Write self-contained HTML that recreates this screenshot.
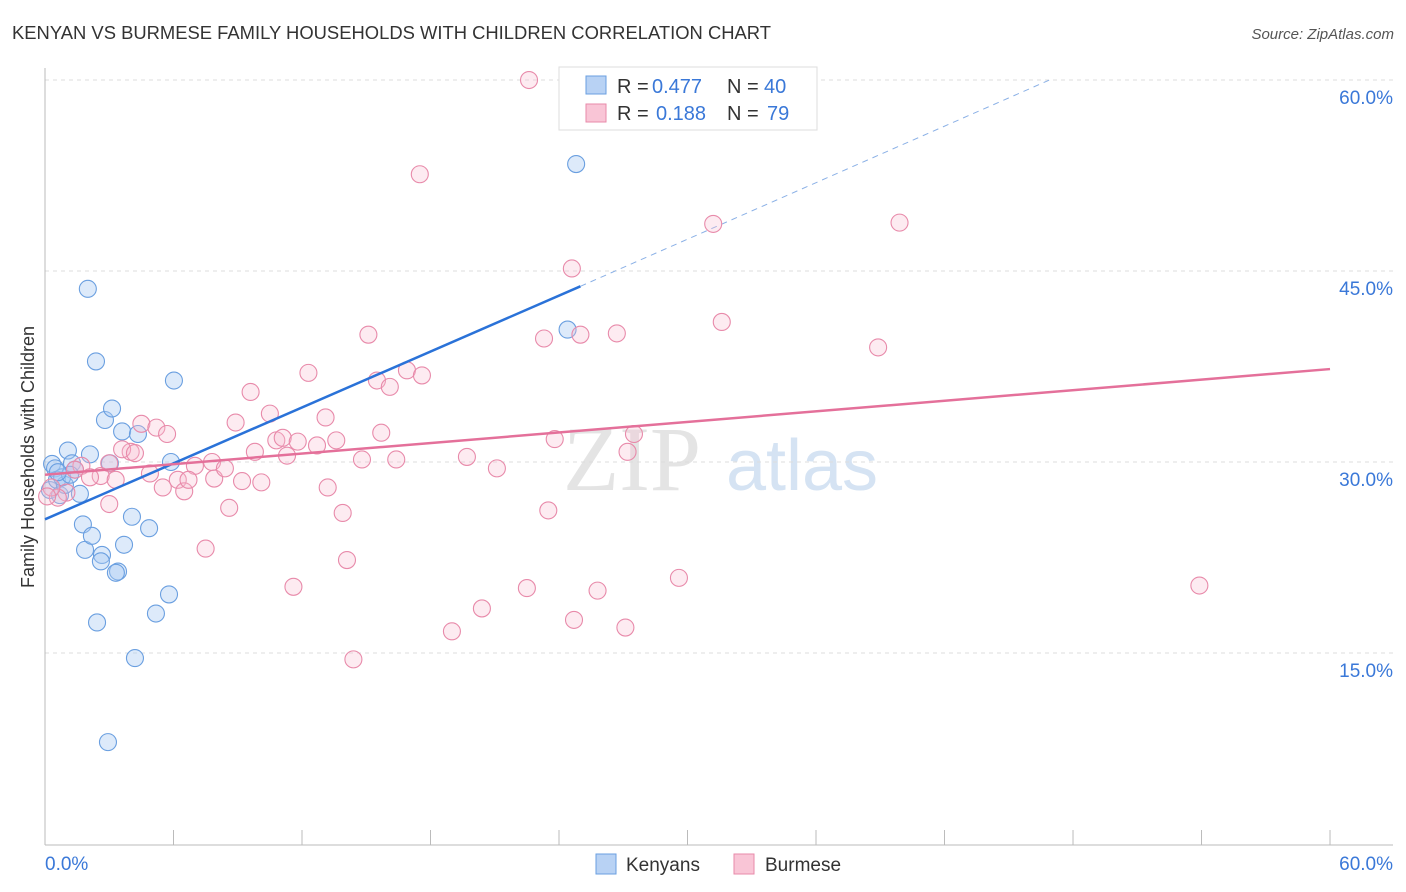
<!DOCTYPE html>
<html><head><meta charset="utf-8">
<style>
body{margin:0;background:#fff;font-family:"Liberation Sans",sans-serif;}
svg{display:block}
</style></head>
<body>
<svg id="chart" width="1406" height="892" xmlns="http://www.w3.org/2000/svg">
<text x="12" y="39" font-size="18" fill="#333" textLength="759" lengthAdjust="spacingAndGlyphs">KENYAN VS BURMESE FAMILY HOUSEHOLDS WITH CHILDREN CORRELATION CHART</text>
<text x="1394" y="39" font-size="15" fill="#555" font-style="italic" text-anchor="end">Source: ZipAtlas.com</text>
<g>
<text x="632" y="490" font-size="92" font-family="Liberation Serif,serif" fill="#e4e4e4" text-anchor="middle">ZIP</text>
<text x="802" y="490" font-size="72" fill="#d5e3f3" text-anchor="middle">atlas</text>
</g>
<g id="grid"></g>
<g id="axes"></g>
<g id="lines"></g>
<g id="points"></g>
<text transform="translate(34,457) rotate(-90)" font-size="18" fill="#333" text-anchor="middle">Family Households with Children</text>
<g>
<rect x="559" y="67" width="258" height="63" fill="#fff" stroke="#ddd"/>
<rect x="586" y="76" width="20" height="18" fill="#b8d2f4" stroke="#6a9fe0"/>
<rect x="586" y="104" width="20" height="18" fill="#f9c5d6" stroke="#e88aaa"/>
<text x="617" y="93" font-size="20" fill="#333">R =</text>
<text x="652" y="93" font-size="20" fill="#3a78d8">0.477</text>
<text x="727" y="93" font-size="20" fill="#333">N =</text>
<text x="764" y="93" font-size="20" fill="#3a78d8">40</text>
<text x="617" y="120" font-size="20" fill="#333">R =</text>
<text x="656" y="120" font-size="20" fill="#3a78d8">0.188</text>
<text x="727" y="120" font-size="20" fill="#333">N =</text>
<text x="767" y="120" font-size="20" fill="#3a78d8">79</text>
</g>
<g>
<rect x="596" y="854" width="20" height="20" fill="#b8d2f4" stroke="#6a9fe0"/>
<text x="626" y="871" font-size="19" fill="#333">Kenyans</text>
<rect x="734" y="854" width="20" height="20" fill="#f9c5d6" stroke="#e88aaa"/>
<text x="765" y="871" font-size="19" fill="#333">Burmese</text>
</g>
</svg>
<script>
const yTicks=[15,30,45,60];
const yTickLabels=["15.0%","30.0%","45.0%","60.0%"];
const xTickVals=[0,6,12,18,24,30,36,42,48,54,60];
const xEndLabels=["0.0%","60.0%"];
const kenX=[0.33,0.47,0.23,0.56,0.7,1.07,1.26,1.4,0.93,1.63,2.0,2.38,2.1,2.8,3.13,3.03,3.6,4.34,6.02,5.88,1.77,1.87,2.19,2.66,2.61,3.69,3.41,3.31,4.06,4.86,2.43,5.18,5.79,4.2,2.94,24.8,24.4,0.8,1.17,0.6];
const kenY=[29.85,29.5,27.8,28.6,27.4,30.9,29.9,29.4,28.2,27.5,43.6,37.9,30.6,33.3,34.2,29.9,32.4,32.2,36.4,30.0,25.1,23.1,24.2,22.7,22.2,23.5,21.4,21.3,25.7,24.8,17.4,18.1,19.6,14.6,8.0,53.4,40.4,28.8,29.0,29.2];
const burX=[22.6,17.5,31.2,39.9,24.6,15.1,23.3,25.0,26.7,31.6,38.9,12.3,9.6,15.5,16.1,16.9,17.6,10.5,8.9,13.1,4.5,5.2,5.7,4.0,3.6,4.2,10.8,11.1,11.8,12.7,13.6,15.7,23.8,27.5,9.8,11.3,14.8,16.4,19.7,21.1,27.2,3.0,2.6,3.3,4.9,6.2,6.5,7.0,7.8,7.9,8.4,9.2,10.1,6.7,5.5,1.7,2.1,1.4,1.0,0.6,0.3,0.1,3.0,13.2,8.6,13.9,23.5,7.5,14.1,11.6,22.5,25.8,29.6,20.4,24.7,27.1,19.0,14.4,53.9];
const burY=[60.0,52.6,48.7,48.8,45.2,40.0,39.7,40.0,40.1,41.0,39.0,37.0,35.5,36.4,35.9,37.2,36.8,33.8,33.1,33.5,33.0,32.7,32.2,30.8,31.0,30.7,31.7,31.9,31.6,31.3,31.7,32.3,31.8,32.2,30.8,30.5,30.2,30.2,30.4,29.5,30.8,29.9,28.9,28.6,29.1,28.6,27.7,29.7,30.0,28.7,29.5,28.5,28.4,28.6,28.0,29.7,28.8,29.4,27.6,27.2,28.0,27.3,26.7,28.0,26.4,26.0,26.2,23.2,22.3,20.2,20.1,19.9,20.9,18.5,17.6,17.0,16.7,14.5,20.3];
const kenTrend=[[0,25.5],[25,43.8]];
const kenTrendExt=[[25,43.8],[46.9,60]];
const burTrend=[[0,29.0],[60,37.3]];

const NS="http://www.w3.org/2000/svg";
const xs=v=>45+v*21.417;
const ys=v=>844-v*12.733;
function mk(tag,attrs,parent){const e=document.createElementNS(NS,tag);for(const k in attrs)e.setAttribute(k,attrs[k]);document.getElementById(parent).appendChild(e);return e;}

yTicks.forEach((t,i)=>{
  const g=mk('line',{x1:45,x2:1393,y1:ys(t),y2:ys(t),stroke:'#ddd','stroke-dasharray':'4,4'},'grid');
  
  
  const l=mk('text',{x:1393,y:ys(t)+24,'font-size':19,fill:'#3a78d8','text-anchor':'end'},'grid');
  l.textContent=yTickLabels[i];
  
  
});
const ax=mk('line',{x1:45,x2:1393,y1:845,y2:845,stroke:'#bbb'},'axes');


const ay=mk('line',{x1:45,x2:45,y1:68,y2:845,stroke:'#bbb'},'axes');


xTickVals.forEach(t=>{
  const k=mk('line',{x1:xs(t),x2:xs(t),y1:830,y2:845,stroke:'#bbb'},'axes');
  
  
});
[[0,'start'],[60,'end']].forEach((p,i)=>{
  const l=mk('text',{x:i?1393:45,y:870,'font-size':19,fill:'#3a78d8','text-anchor':p[1]},'axes');
  l.textContent=xEndLabels[i];
  
  
});
const l1=mk('line',{x1:xs(kenTrendExt[0][0]),y1:ys(kenTrendExt[0][1]),x2:xs(kenTrendExt[1][0]),y2:ys(kenTrendExt[1][1]),stroke:'#8ab0e6','stroke-width':1,'stroke-dasharray':'6,5'},'lines');



kenX.forEach((x,i)=>{
  const c=mk('circle',{cx:xs(x),cy:ys(kenY[i]),r:8.5,fill:'rgba(170,202,242,0.4)',stroke:'#6a9fe0','stroke-width':1.1},'points');
  
  
});
burX.forEach((x,i)=>{
  const c=mk('circle',{cx:xs(x),cy:ys(burY[i]),r:8.5,fill:'rgba(248,190,210,0.3)',stroke:'#e88aaa','stroke-width':1.1},'points');
  
  
});
const l2=mk('line',{x1:xs(kenTrend[0][0]),y1:ys(kenTrend[0][1]),x2:xs(kenTrend[1][0]),y2:ys(kenTrend[1][1]),stroke:'#2a72d8','stroke-width':2.5},'points');


const l3=mk('line',{x1:xs(burTrend[0][0]),y1:ys(burTrend[0][1]),x2:xs(burTrend[1][0]),y2:ys(burTrend[1][1]),stroke:'#e4709a','stroke-width':2.5},'points');


</script>
</body></html>
